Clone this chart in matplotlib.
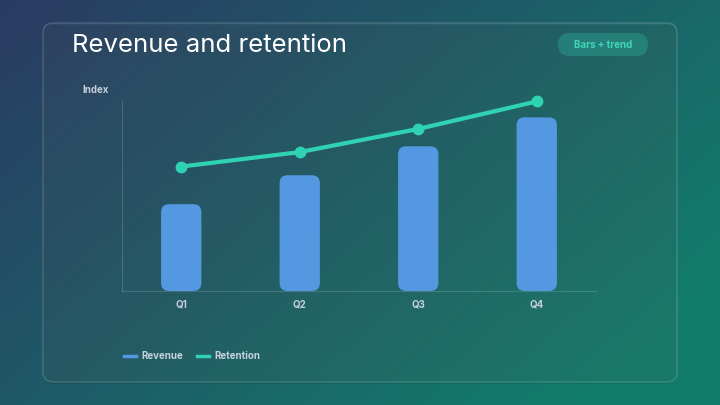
import matplotlib
matplotlib.use("Agg")
import matplotlib.pyplot as plt
from matplotlib.patches import FancyBboxPatch
from matplotlib.lines import Line2D
import numpy as np

# data
quarters = ["Q1", "Q2", "Q3", "Q4"]
revenue = [30, 40, 50, 60]
retention = [43, 48, 56, 65.5]

plt.rcParams["font.family"] = ["Inter", "DejaVu Sans"]

W, H = 720, 405
fig = plt.figure(figsize=(W / 100, H / 100), dpi=100)

# background, pixel coords
bg = fig.add_axes([0, 0, 1, 1], zorder=0)
bg.set_xlim(0, W)
bg.set_ylim(H, 0)
bg.axis("off")

c0 = np.array([0x2a, 0x3b, 0x62]) / 255
c1 = np.array([0x12, 0x7c, 0x6c]) / 255
yy, xx = np.mgrid[0:H, 0:W]
t = xx / W * 0.7 + yy / H * 0.45
t = np.clip(t, 0, 1)[..., None]
grad = c0 * (1 - t) + c1 * t
bg.imshow(grad, extent=[0, W, H, 0], aspect="auto", zorder=0)

# shadow + card
bg.add_patch(FancyBboxPatch((43, 25), 634, 359, boxstyle="round,pad=0,rounding_size=10",
                            facecolor="black", alpha=0.08, edgecolor="none", zorder=1))
bg.add_patch(FancyBboxPatch((43, 23), 634, 359, boxstyle="round,pad=0,rounding_size=10",
                            facecolor=(1, 1, 1, 0.045), edgecolor=(1, 1, 1, 0.16),
                            linewidth=1, zorder=2))

# badge
bg.add_patch(FancyBboxPatch((558, 33), 90, 23, boxstyle="round,pad=0,rounding_size=11.5",
                            facecolor=(0.2, 0.8, 0.7, 0.28), edgecolor="none", zorder=3))
bg.text(603, 45, "Bars + trend", color="#3fd6b9", fontsize=7, fontweight="bold",
        ha="center", va="center", zorder=4)

bg.text(72, 46, "Revenue and retention", color="white", fontsize=18.5,
        ha="left", va="center", zorder=4)
bg.text(82, 90, "Index", color="#c3cedb", fontsize=7, fontweight="bold",
        ha="left", va="center", zorder=4)

# chart
ax = fig.add_axes([122 / W, 114 / H, 474 / W, 191 / H], zorder=2)
ax.set_facecolor("none")
x = np.arange(len(quarters))
bars = ax.bar(x, revenue, width=0.34, color="#5598e2")
ax.set_xlim(-0.5, 3.5)
ax.set_ylim(0, 66)

# rounded bars
fig.canvas.draw()
bb = ax.get_window_extent()
xu = (ax.get_xlim()[1] - ax.get_xlim()[0]) / bb.width
yu = (ax.get_ylim()[1] - ax.get_ylim()[0]) / bb.height
for b in bars:
    b.set_visible(False)
    ax.add_patch(FancyBboxPatch((b.get_x(), b.get_y()), b.get_width(), b.get_height(),
                                boxstyle="round,pad=0,rounding_size=%f" % (8 * xu),
                                mutation_aspect=yu / xu,
                                facecolor="#5598e2", edgecolor="none", zorder=2))

ax.plot(x, retention, color="#2fd3b4", linewidth=3, marker="o", markersize=7.5,
        solid_capstyle="round", zorder=3, clip_on=False)

for s in ["top", "right"]:
    ax.spines[s].set_visible(False)
for s in ["left", "bottom"]:
    ax.spines[s].set_color((1, 1, 1, 0.15))
    ax.spines[s].set_linewidth(0.8)
ax.set_yticks([])
ax.set_xticks(x)
ax.set_xticklabels(quarters, color="#c5d0dc", fontsize=7, fontweight="bold")
ax.tick_params(axis="x", length=0, pad=6)

handles = [Line2D([], [], color="#5598e2", linewidth=2.5),
           Line2D([], [], color="#2fd3b4", linewidth=2.5)]
fig.legend(handles, ["Revenue", "Retention"], loc="center left",
           bbox_to_anchor=(115 / W, 1 - 356 / H), ncol=2, frameon=False,
           handlelength=1.3, handletextpad=0.5, columnspacing=1.4,
           prop={"size": 7, "weight": "bold"}, labelcolor="#c5d0dc")

fig.savefig("out.png", dpi=100)
